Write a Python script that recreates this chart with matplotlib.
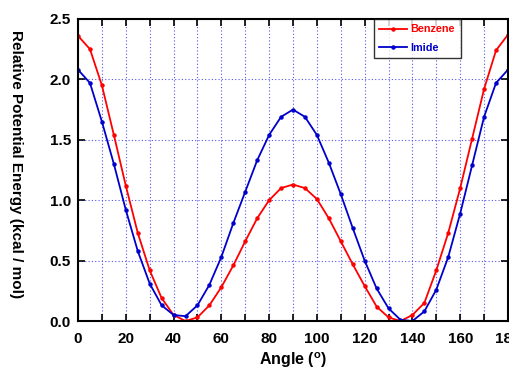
import matplotlib
matplotlib.use("Agg")
import matplotlib.pyplot as plt
from matplotlib.ticker import MultipleLocator

plt.rcParams['font.family'] = ['Liberation Sans', 'DejaVu Sans']
plt.rcParams['mathtext.fontset'] = 'custom'
plt.rcParams['mathtext.rm'] = 'Liberation Sans:bold'
plt.rcParams['mathtext.bf'] = 'Liberation Sans:bold'

angles = list(range(0, 181, 5))
benzene = [2.36, 2.25, 1.95, 1.54, 1.12, 0.73, 0.42, 0.19, 0.05, 0.00,
           0.03, 0.13, 0.28, 0.46, 0.66, 0.85, 1.00, 1.10, 1.13, 1.10,
           1.01, 0.85, 0.66, 0.47, 0.29, 0.12, 0.03, 0.00, 0.05, 0.15,
           0.42, 0.73, 1.10, 1.51, 1.92, 2.24, 2.37]
imide = [2.08, 1.97, 1.65, 1.30, 0.92, 0.58, 0.31, 0.13, 0.05, 0.04,
         0.13, 0.30, 0.53, 0.81, 1.07, 1.33, 1.54, 1.69, 1.75, 1.69,
         1.54, 1.31, 1.05, 0.77, 0.50, 0.27, 0.105, 0.01, 0.00, 0.08,
         0.26, 0.53, 0.89, 1.29, 1.69, 1.97, 2.08]
xticks = [0, 20, 40, 60, 80, 100, 120, 140, 160, 180]
yticks = [0.0, 0.5, 1.0, 1.5, 2.0, 2.5]

fig = plt.figure(figsize=(5.1, 3.72), dpi=100)
ax = fig.add_axes([0.153, 0.137, 0.843, 0.812])

ax.plot(angles, benzene, color='#ff0000', lw=1.3, marker='o', ms=2.2, label='Benzene')
ax.plot(angles, imide, color='#0000cc', lw=1.3, marker='o', ms=2.2, label='Imide')

ax.set_xlim(0, 180)
ax.set_ylim(0, 2.5)
ax.set_xticks(xticks)
ax.set_yticks(yticks)
ax.set_yticklabels([f'{v:.1f}' for v in yticks])
ax.xaxis.set_minor_locator(MultipleLocator(10))
ax.grid(True, which='both', axis='x', color='#5555ee', ls=(0, (1, 2)), lw=0.8)
ax.grid(True, which='major', axis='y', color='#5555ee', ls=(0, (1, 2)), lw=0.8)

ax.tick_params(which='both', direction='in', top=True, right=True, width=1.2, length=5)
ax.tick_params(axis='x', pad=8)
ax.tick_params(axis='y', pad=5)
for lab in ax.get_xticklabels() + ax.get_yticklabels():
    lab.set_fontweight('bold')
    lab.set_fontsize(11)
for s in ax.spines.values():
    s.set_linewidth(1.5)

ax.set_xlabel(r'Angle ($^{\mathregular{o}}$)', fontsize=11.5, fontweight='bold', labelpad=3)
ax.set_ylabel('Relative Potential Energy (kcal / mol)', fontsize=11, fontweight='bold',
              rotation=270)
ax.yaxis.set_label_coords(-0.16, 0.52)

leg = ax.legend(loc='upper left', bbox_to_anchor=(0.688, 1.0), frameon=True, fancybox=False,
                edgecolor='black', fontsize=7.8, handlelength=2.6, borderpad=0.5,
                labelspacing=0.75, handletextpad=0.3, borderaxespad=0.0)
leg.get_frame().set_linewidth(1.0)
for t, c in zip(leg.get_texts(), ['#ff0000', '#0000cc']):
    t.set_color(c)
    t.set_fontweight('bold')

fig.savefig('out.png', dpi=100)
